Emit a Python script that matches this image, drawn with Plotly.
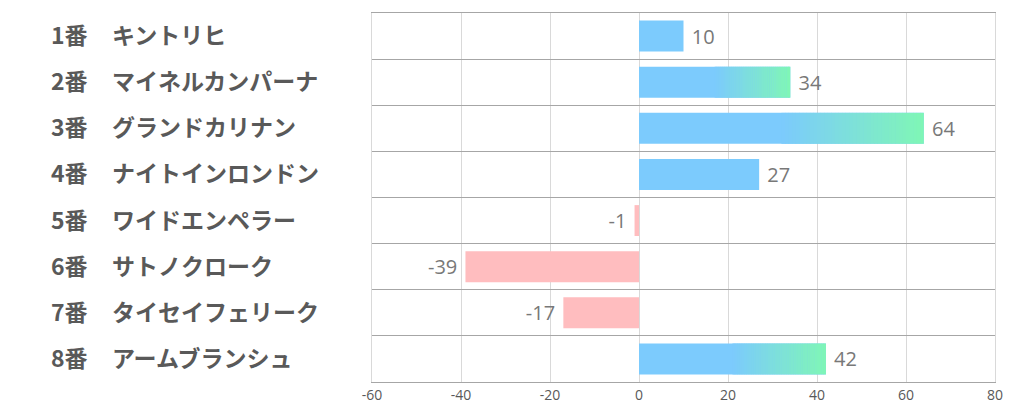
import plotly.graph_objects as go

numbers = ["1番", "2番", "3番", "4番", "5番", "6番", "7番", "8番"]
names = ["キントリヒ", "マイネルカンパーナ", "グランドカリナン", "ナイトインロンドン",
         "ワイドエンペラー", "サトノクローク", "タイセイフェリーク", "アームブランシュ"]
values = [10, 34, 64, 27, -1, -39, -17, 42]
x_ticks = [-60, -40, -20, 0, 20, 40, 60, 80]
x_tick_labels = ["-60", "-40", "-20", "0", "20", "40", "60", "80"]

BLUE = (124, 203, 253)
GREEN = (128, 247, 182)
PINK = "#FFBDBF"

def rgb(c):
    return "rgb(%d,%d,%d)" % c

cats = numbers
colors = [rgb(BLUE) if v >= 0 else PINK for v in values]
texts = [(" %d" % v) if v >= 0 else ("%d " % v) for v in values]

fig = go.Figure()
fig.add_trace(go.Bar(
    y=cats, x=values, orientation="h",
    marker=dict(color=colors, line=dict(width=0)),
    width=0.67,
    text=texts, textposition="outside",
    textfont=dict(family="Open Sans", size=20, color="#787878"),
    cliponaxis=False, showlegend=False, hoverinfo="skip",
))

# gradient overlay for the top three bars (right half fades blue -> green)
top3 = sorted([v for v in values if v > 0], reverse=True)[:3]
N = 40
for cat, v in zip(cats, values):
    if v not in top3:
        continue
    start = v / 2
    step = (v - start) / N
    bases, widths, cols = [], [], []
    for k in range(N):
        t = (k + 0.5) / N
        c = tuple(BLUE[i] + (GREEN[i] - BLUE[i]) * t for i in range(3))
        bases.append(start + k * step)
        widths.append(step * 1.15 if k < N - 1 else step)
        cols.append(rgb(c))
    fig.add_trace(go.Bar(
        y=[cat] * N, x=widths, base=bases, orientation="h",
        marker=dict(color=cols, line=dict(width=0)),
        width=0.67, showlegend=False, hoverinfo="skip",
    ))

label_font = dict(family="Noto Sans CJK JP", size=23, color="#595959", weight="bold")
ann = []
for cat, nm in zip(cats, names):
    ann.append(dict(x=-0.5185, y=cat, xref="paper", yref="y", text=cat, yshift=2,
                    xanchor="left", yanchor="middle", showarrow=False, font=label_font))
    ann.append(dict(x=-0.4205, y=cat, xref="paper", yref="y", text=nm, yshift=2,
                    xanchor="left", yanchor="middle", showarrow=False, font=label_font))

fig.update_layout(
    width=1022, height=417,
    margin=dict(l=372, r=27, t=13, b=35),
    paper_bgcolor="white", plot_bgcolor="white",
    barmode="overlay", bargap=0.33,
    annotations=ann,
    xaxis=dict(range=[-60, 80], tickvals=x_ticks, ticktext=x_tick_labels,
               showgrid=True, gridcolor="#d9d9d9", gridwidth=1, zeroline=False,
               showline=True, mirror=True, linecolor="#a6a6a6", linewidth=1,
               tickfont=dict(family="Open Sans", size=14, color="#595959"), ticks=""),
    yaxis=dict(categoryorder="array", categoryarray=cats, autorange="reversed",
               showticklabels=False, tickson="boundaries", showgrid=True,
               gridcolor="#a6a6a6", gridwidth=1, ticks="", zeroline=False,
               showline=True, mirror=True, linecolor="#d9d9d9"),
)

fig.write_html("out.html", post_script="document.body.style.margin='0';",
               config={"displayModeBar": False})
